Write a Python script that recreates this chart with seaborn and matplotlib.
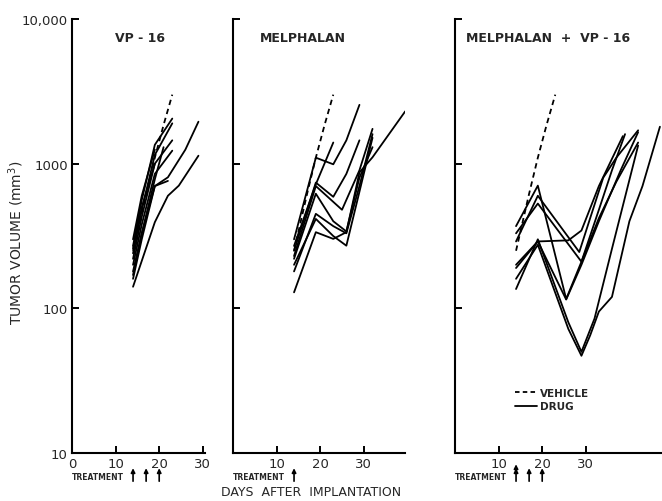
import pandas as pd
import matplotlib
matplotlib.use('Agg')
import matplotlib.pyplot as plt
from matplotlib.lines import Line2D
import seaborn as sns

# --- данные (день после имплантации, объем опухоли мм3) ---
panel_titles = ['VP - 16', 'MELPHALAN', 'MELPHALAN  +  VP - 16']

vehicle_days = [14, 17, 19, 21, 23]
vehicle_vol = [250, 620, 1100, 1850, 3000]

vp16_days = [[14, 19, 22, 24.5, 26, 29], [14, 16, 19, 22, 26, 29], [14, 16, 19, 23],
             [14, 16, 19, 23], [14, 16, 19, 23], [14, 16, 19, 23], [14, 16, 19, 21],
             [14, 16, 19], [14, 16, 19, 22], [14, 16, 19]]
vp16_vol = [[141, 394, 600, 705, 826, 1135], [180, 330, 700, 805, 1250, 1950],
            [270, 560, 1350, 2050], [240, 480, 1150, 1900], [220, 430, 1000, 1450],
            [200, 380, 850, 1230], [170, 330, 780, 1300], [260, 500, 1000],
            [160, 300, 700, 760], [300, 600, 1250]]

mel_days = [[14, 19, 23, 26, 29], [14, 19, 23], [14, 19, 23, 26, 29], [14, 19, 25, 29, 32],
            [14, 19, 23, 26, 32], [14, 19, 23, 26, 29, 32], [14, 19, 23, 26, 29, 32, 39.5],
            [14, 19, 23, 26, 29, 32]]
mel_vol = [[300, 1100, 990, 1450, 2550], [270, 720, 1400], [250, 740, 590, 850, 1450],
           [230, 700, 480, 900, 1740], [200, 415, 316, 271, 1510],
           [180, 450, 370, 330, 700, 1600], [129, 336, 302, 336, 870, 1107, 2300],
           [220, 620, 400, 340, 800, 1300]]

combo_days = [[14, 19, 25.5, 29, 33, 36, 39], [14, 19, 28.5, 31, 34, 37, 42],
              [14, 19, 29, 33, 37, 42], [14, 19, 26, 29, 33, 38.5],
              [14, 19, 26, 29, 31, 33, 36, 40, 43, 47], [14, 19, 26, 29, 32, 36, 42],
              [14, 19, 25.5, 29, 33, 38, 42]]
combo_vol = [[370, 705, 116, 210, 480, 900, 1600], [290, 600, 245, 420, 800, 1100, 1700],
             [330, 530, 210, 420, 750, 1400], [190, 290, 295, 345, 700, 1550],
             [160, 275, 72, 47, 65, 95, 120, 400, 700, 1800],
             [136, 300, 80, 50, 85, 258, 1335], [200, 290, 115, 200, 400, 900, 1650]]

treat_days = [[14, 17, 20], [14], [14, 17, 20]]
treat_double = [[], [], [14]]
x_ticks = [[0, 10, 20, 30], [10, 20, 30], [10, 20, 30]]
x_max = [30.4, 39.5, 47.5]


def make_frame(days_list, vol_list):
    rows = []
    for i, (d, v) in enumerate(zip(days_list, vol_list)):
        for dd, vv in zip(d, v):
            rows.append({'mouse': i, 'day': dd, 'volume': vv, 'group': 'drug'})
    for dd, vv in zip(vehicle_days, vehicle_vol):
        rows.append({'mouse': -1, 'day': dd, 'volume': vv, 'group': 'vehicle'})
    return pd.DataFrame(rows)


frames = [make_frame(vp16_days, vp16_vol), make_frame(mel_days, mel_vol),
          make_frame(combo_days, combo_vol)]

sns.set_style('ticks')
plt.rcParams['font.family'] = ['DejaVu Sans']

fig = plt.figure(figsize=(6.62, 5.02), dpi=100)
W, H = 662, 502
lefts = [72, 233, 455]
title_x = [115, 260, 466]
px_per_day = 4.36
bottom_px, top_px = 454, 20

arrow_props = dict(arrowstyle='-|>', color='black', lw=1.2, mutation_scale=6,
                   shrinkA=0, shrinkB=0)

for k in range(3):
    width = x_max[k] * px_per_day
    ax = fig.add_axes([lefts[k] / W, (H - bottom_px) / H, width / W, (bottom_px - top_px) / H])
    sns.lineplot(data=frames[k], x='day', y='volume', units='mouse', estimator=None,
                 style='group', dashes={'drug': '', 'vehicle': (3, 2.2)},
                 color='black', lw=1.3, legend=False, ax=ax, sort=False)
    ax.set_yscale('log')
    ax.set_ylim(10, 10000)
    ax.set_xlim(0, x_max[k])
    ax.set_xticks(x_ticks[k])
    ax.set_yticks([10, 100, 1000, 10000])
    ax.minorticks_off()
    if k == 0:
        ax.set_yticklabels(['10', '100', '1000', '10,000'])
    else:
        ax.set_yticklabels([])
    ax.tick_params(direction='in', length=5, width=1.4, labelsize=9.5, color='black')
    ax.tick_params(axis='x', pad=3)
    ax.tick_params(axis='y', pad=3)
    for s in ['top', 'right']:
        ax.spines[s].set_visible(False)
    for s in ['left', 'bottom']:
        ax.spines[s].set_linewidth(1.5)
        ax.spines[s].set_color('black')
    ax.set_xlabel('')
    ax.set_ylabel('')
    fig.text(title_x[k] / W, (H - 38) / H, panel_titles[k], fontsize=9, fontweight='bold',
             ha='left', va='center')
    # стрелки лечения
    ax.text(0, -0.055, 'TREATMENT', transform=ax.transAxes, fontsize=5.5,
            fontweight='bold', ha='left', va='center')
    for d in treat_days[k]:
        ax.annotate('', xy=(d, -0.035), xytext=(d, -0.065),
                    xycoords=('data', 'axes fraction'), textcoords=('data', 'axes fraction'),
                    arrowprops=arrow_props, annotation_clip=False)
    for d in treat_double[k]:
        ax.annotate('', xy=(d, -0.026), xytext=(d, -0.036),
                    xycoords=('data', 'axes fraction'), textcoords=('data', 'axes fraction'),
                    arrowprops=arrow_props, annotation_clip=False)
    if k == 2:
        handles = [Line2D([], [], color='black', lw=1.3, ls=(0, (2.5, 1.8))),
                   Line2D([], [], color='black', lw=1.3)]
        ax.legend(handles, ['VEHICLE', 'DRUG'], frameon=False, loc='upper left',
                  bbox_to_anchor=(0.27, 0.16), handlelength=2.1, handletextpad=0.25,
                  labelspacing=0.35, borderaxespad=0, prop={'size': 7.5, 'weight': 'bold'})

fig.text(16 / W, (H - 243) / H, 'TUMOR VOLUME (mm$^3$)', rotation=90, fontsize=10,
         ha='center', va='center')
fig.text(311 / W, (H - 493) / H, 'DAYS  AFTER  IMPLANTATION', fontsize=9,
         ha='center', va='center')

fig.savefig('out.png', dpi=100)
